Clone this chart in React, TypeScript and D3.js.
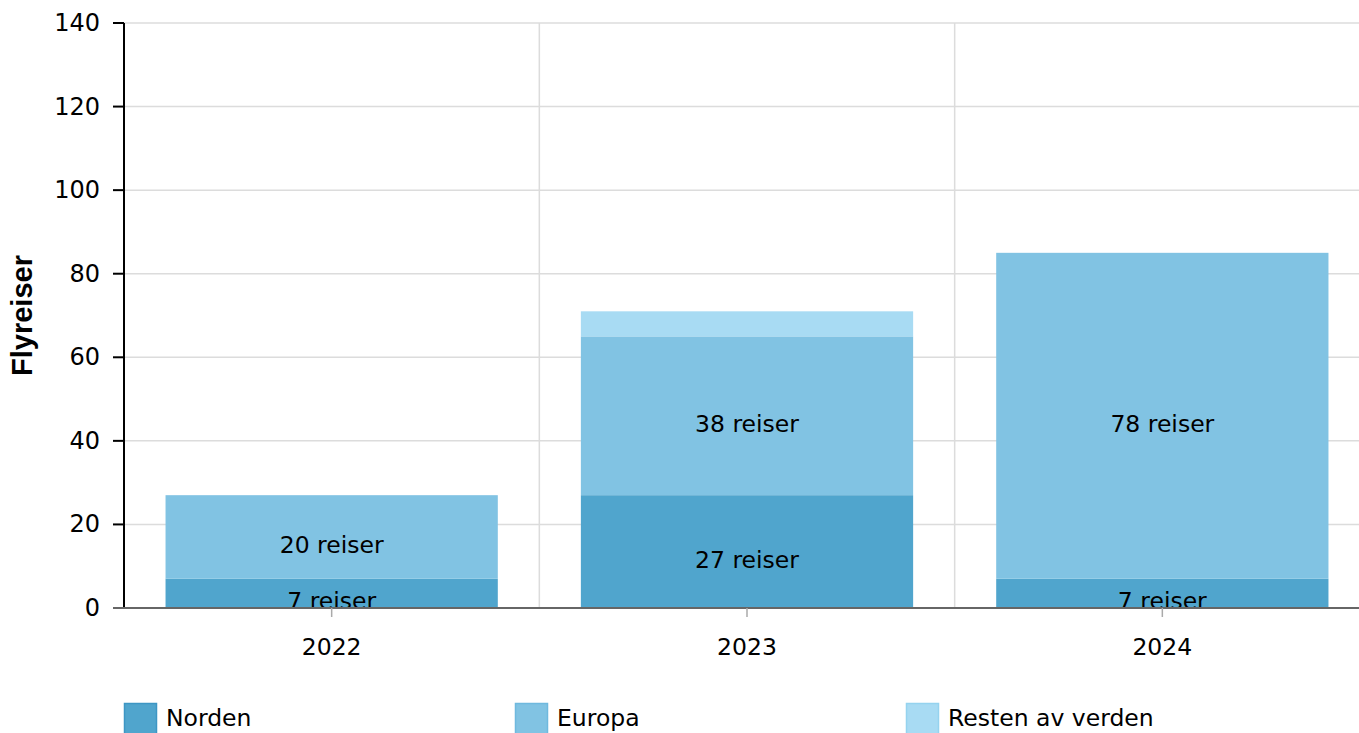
import * as d3 from 'd3'

const years = ['2022', '2023', '2024']
const series = ['Norden', 'Europa', 'Resten av verden']
const norden = [7, 27, 7]
const europa = [20, 38, 78]
const resten = [0, 6, 0]
const yTicks = [0, 20, 40, 60, 80, 100, 120, 140]

const colors = ['#50a5cd', '#81c3e3', '#a8dbf3']
const borders = ['#3d96c4', '#6fb9de', '#95d3ef']

const W = 1359
const H = 733
const left = 124
const top = 23
const bottom = 608
const font = 'DejaVu Sans, Verdana, sans-serif'

function App() {
    const x = d3
        .scaleBand()
        .domain(years)
        .range([left, 1370])
        .paddingInner(0.2)
        .paddingOuter(0.1)

    const y = d3.scaleLinear().domain([0, 140]).range([bottom, top])

    const rows = years.map((yr, i) => ({
        year: yr,
        Norden: norden[i],
        Europa: europa[i],
        'Resten av verden': resten[i],
    }))
    const stacked = d3.stack().keys(series)(rows as any)

    const step = x.step()
    const bounds = [1, 2].map((k) => left + k * step)

    return (
        <svg
            width={W}
            height={H}
            style={{ position: 'absolute', left: 0, top: 0, background: '#fff' }}
            fontFamily={font}
        >
            {/* grid */}
            {yTicks.map((t) => (
                <line key={'g' + t} x1={left} x2={W} y1={y(t)} y2={y(t)} stroke="#dcdcdc" strokeWidth={1.5} />
            ))}
            {bounds.map((b) => (
                <line key={'v' + b} x1={b} x2={b} y1={top} y2={bottom} stroke="#dcdcdc" strokeWidth={1.5} />
            ))}

            {/* bars */}
            {stacked.map((s, si) =>
                s.map((d, i) =>
                    d[1] - d[0] > 0 ? (
                        <rect
                            key={si + '-' + i}
                            x={x(years[i])}
                            width={x.bandwidth()}
                            y={y(d[1])}
                            height={y(d[0]) - y(d[1])}
                            fill={colors[si]}
                        />
                    ) : null
                )
            )}

            {/* labels */}
            {stacked.slice(0, 2).map((s, si) =>
                s.map((d, i) =>
                    d[1] - d[0] > 0 ? (
                        <text
                            key={'l' + si + '-' + i}
                            x={(x(years[i]) as number) + x.bandwidth() / 2}
                            y={(y(d[0]) + y(d[1])) / 2 + 8}
                            textAnchor="middle"
                            dominantBaseline="central"
                            fontSize={23.5}
                            fill="#000"
                        >
                            {d[1] - d[0]} reiser
                        </text>
                    ) : null
                )
            )}

            {/* y axis */}
            <line x1={left} x2={left} y1={top} y2={bottom} stroke="#000" strokeWidth={2} />
            {yTicks.map((t) => (
                <g key={'t' + t}>
                    <line x1={left - 11} x2={left} y1={y(t)} y2={y(t)} stroke="#000" strokeWidth={2} />
                    <text x={left - 24} y={y(t)} textAnchor="end" dominantBaseline="central" fontSize={24}>
                        {t}
                    </text>
                </g>
            ))}
            <text
                transform={`translate(32, ${(top + bottom) / 2}) rotate(-90)`}
                textAnchor="middle"
                fontSize={29}
                fontWeight="bold"
                fontFamily="Liberation Sans, Arial, sans-serif"
            >
                Flyreiser
            </text>

            {/* x axis */}
            <line x1={left - 11} x2={W} y1={bottom} y2={bottom} stroke="#666" strokeWidth={2} />
            {years.map((yr) => {
                const cx = (x(yr) as number) + x.bandwidth() / 2
                return (
                    <g key={'x' + yr}>
                        <line x1={cx} x2={cx} y1={bottom} y2={bottom + 9} stroke="#aaa" strokeWidth={1.5} />
                        <text x={cx} y={647} textAnchor="middle" dominantBaseline="central" fontSize={23.5}>
                            {yr}
                        </text>
                    </g>
                )
            })}

            {/* legend */}
            {series.map((s, i) => (
                <g key={'lg' + s} transform={`translate(${124 + i * 391}, 703)`}>
                    <rect x={0.5} y={0.5} width={32} height={40} fill={colors[i]} stroke={borders[i]} strokeWidth={1.5} />
                    <text x={42} y={23} fontSize={23.5}>
                        {s}
                    </text>
                </g>
            ))}
        </svg>
    )
}

export default App
